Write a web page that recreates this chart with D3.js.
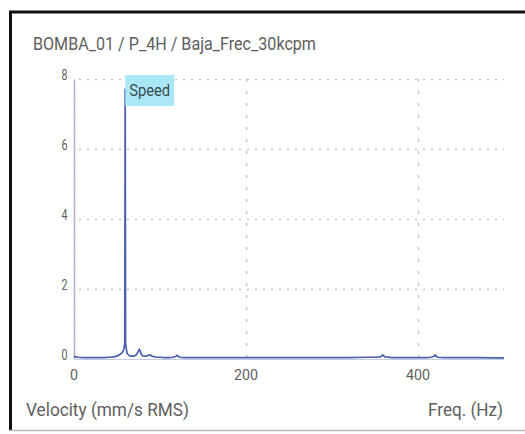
<!DOCTYPE html>
<html><head><meta charset="utf-8">
<script src="https://cdn.jsdelivr.net/npm/d3@7"></script>
<style>
html,body{margin:0;padding:0;background:#fff;}
svg{display:block;}
</style></head>
<body>
<svg id="c" width="525" height="434"></svg>
<script>
const title = "BOMBA_01 / P_4H / Baja_Frec_30kcpm";
const yLabel = "Velocity (mm/s RMS)";
const xLabel = "Freq. (Hz)";
const peakLabel = "Speed";
const peakFreq = 59.5;
const xTicks = [0, 200, 400];
const yTicks = [0, 2, 4, 6, 8];
const freqs = [0, 2, 5, 10, 15, 20, 25, 30, 35, 40, 45, 48, 50, 52, 54, 56, 57, 58, 59, 59.5, 60, 61, 62, 64, 66, 69, 72, 74, 75, 76, 77, 78, 80, 82, 85, 87, 88, 89, 91, 94, 97, 100, 105, 110, 115, 118, 119, 120, 121, 123, 127, 130, 140, 150, 160, 180, 200, 220, 250, 280, 300, 320, 340, 350, 355, 357, 358, 359, 360, 362, 370, 390, 400, 410, 415, 418, 419, 420, 421, 423, 430, 450, 470, 490, 500];
const amps  = [0.08, 0.06, 0.05, 0.04, 0.04, 0.04, 0.04, 0.04, 0.04, 0.05, 0.06, 0.07, 0.09, 0.11, 0.14, 0.18, 0.22, 0.28, 0.45, 7.71, 0.45, 0.26, 0.15, 0.10, 0.08, 0.08, 0.11, 0.18, 0.24, 0.28, 0.22, 0.14, 0.09, 0.08, 0.09, 0.11, 0.12, 0.11, 0.08, 0.06, 0.05, 0.05, 0.04, 0.04, 0.05, 0.07, 0.09, 0.11, 0.08, 0.05, 0.04, 0.04, 0.04, 0.04, 0.04, 0.04, 0.04, 0.04, 0.04, 0.04, 0.04, 0.04, 0.05, 0.05, 0.06, 0.07, 0.09, 0.12, 0.09, 0.06, 0.04, 0.04, 0.04, 0.04, 0.05, 0.07, 0.09, 0.12, 0.08, 0.05, 0.04, 0.04, 0.04, 0.03, 0.03];

const svg = d3.select("#c");
const W = 525, H = 434;
const x = d3.scaleLinear().domain([0, 500]).range([74, 504]);
const y = d3.scaleLinear().domain([0, 8]).range([359, 79]);

const txt = "#5e5e5e";
const font = "Roboto, 'Noto Sans', sans-serif";

function label(parent, str, px, py, size, width, anchor, color) {
  const t = parent.append("text").attr("y", py).attr("font-family", font).attr("font-size", size)
    .attr("fill", color || txt).attr("textLength", width).attr("lengthAdjust", "spacingAndGlyphs").text(str);
  let x0 = px;
  if (anchor === "end") x0 = px - width;
  else if (anchor === "middle") x0 = px - width / 2;
  t.attr("x", x0);
  return t;
}

// frame
svg.append("line").attr("x1", 10.5).attr("x2", 10.5).attr("y1", 11).attr("y2", 431).attr("stroke", "#111").attr("stroke-width", 3);
svg.append("line").attr("x1", 9).attr("x2", W).attr("y1", 12).attr("y2", 12).attr("stroke", "#111").attr("stroke-width", 3);
svg.append("line").attr("x1", 9).attr("x2", W).attr("y1", 430.5).attr("y2", 430.5).attr("stroke", "#bbb").attr("stroke-width", 1.5);

label(svg, title, 33, 50, 18, 283, "start");

// grid
const g = svg.append("g");
g.selectAll("line.h").data(yTicks.filter(d => d > 0)).join("line")
  .attr("x1", x(0) + 5).attr("x2", x(500)).attr("y1", d => Math.round(y(d)) + 0.5).attr("y2", d => Math.round(y(d)) + 0.5)
  .attr("stroke", "#c6c6c6").attr("stroke-width", 1.5).attr("stroke-dasharray", "2,6");
g.selectAll("line.v").data(xTicks.filter(d => d > 0)).join("line")
  .attr("x1", d => Math.round(x(d)) + 0.5).attr("x2", d => Math.round(x(d)) + 0.5).attr("y1", y(8)).attr("y2", y(0))
  .attr("stroke", "#c6c6c6").attr("stroke-width", 1.5).attr("stroke-dasharray", "3,9");

// y axis
const yAxis = svg.append("g").attr("transform", `translate(${x(0)},0)`)
  .call(d3.axisLeft(y).tickValues(yTicks).tickSize(0).tickFormat(""));
yAxis.select(".domain").attr("stroke", "#aab3ca").attr("stroke-width", 1.5);
yTicks.forEach(v => label(svg, String(v), 67.5, y(v) + 0.5, 15, 6 * String(v).length, "end"));
svg.append("g").selectAll("line").data(d3.range(0.5, 8, 0.5)).join("line")
  .attr("x1", x(0) - 1).attr("x2", x(0) + 2).attr("y1", d => y(d)).attr("y2", d => y(d))
  .attr("stroke", "#ccd2e0").attr("stroke-width", 1);

// x axis
const xAxis = svg.append("g").attr("transform", `translate(0,${y(0)})`)
  .call(d3.axisBottom(x).tickValues(xTicks).tickSize(0).tickFormat(""));
xAxis.select(".domain").attr("stroke", "#c5cbe0").attr("stroke-width", 1);
xTicks.forEach(v => label(svg, String(v), x(v), 380, 15, 8 * String(v).length, "middle"));

// data
const data = freqs.map((f, i) => ({f, a: amps[i]}));
svg.append("path").datum(data)
  .attr("d", d3.line().x(d => x(d.f)).y(d => y(d.a)))
  .attr("fill", "none").attr("stroke", "#4b5fae").attr("stroke-width", 1.7).attr("stroke-linejoin", "round");

// peak label
const lx = x(peakFreq);
svg.append("rect").attr("x", lx).attr("y", 75).attr("width", 49).attr("height", 31).attr("fill", "#a5e6f6").attr("opacity", 0.93);
label(svg, peakLabel, lx + 4, 96, 16, 41, "start", "#3c4a50");

// axis titles
label(svg, yLabel, 26, 416, 18, 163, "start");
label(svg, xLabel, 503, 416, 18, 75, "end");
</script>
</body></html>
